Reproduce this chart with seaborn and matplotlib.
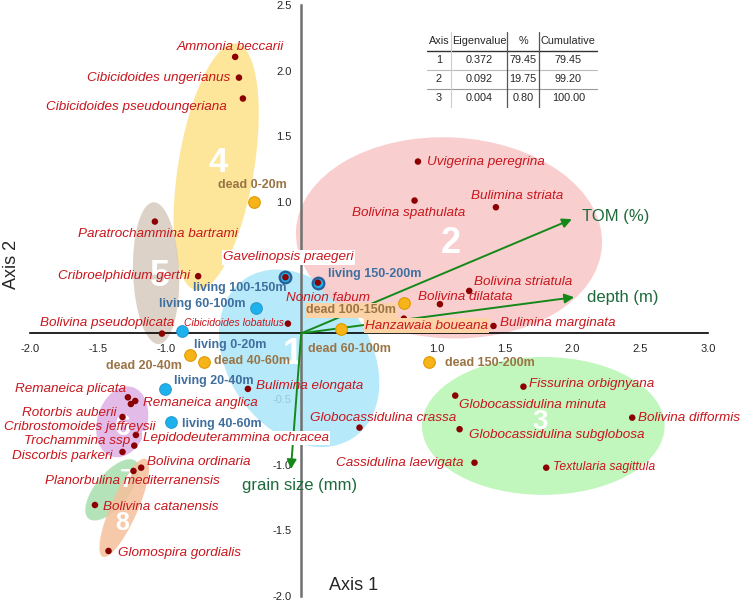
import numpy as np
import pandas as pd
import seaborn as sns
import matplotlib.pyplot as plt
from matplotlib.patches import Ellipse

# ---- data (CCA scores) ----
species = ['Ammonia beccarii', 'Cibicidoides ungerianus', 'Cibicidoides pseudoungeriana',
           'Uvigerina peregrina', 'Bulimina striata', 'Bolivina spathulata',
           'Paratrochammina bartrami', 'Cribroelphidium gerthi', 'Gavelinopsis praegeri',
           'Nonion fabum', 'Cibicidoides lobatulus', 'Bolivina pseudoplicata',
           'Bolivina striatula', 'Bolivina dilatata', 'Hanzawaia boueana',
           'Bulimina marginata', 'Bulimina elongata', 'Remaneica plicata',
           'Remaneica anglica', 'Rotorbis auberii', 'Cribrostomoides jeffreysii',
           'Lepidodeuterammina ochracea', 'Trochammina ssp', 'Discorbis parkeri',
           'Bolivina ordinaria', 'Planorbulina mediterranensis', 'Bolivina catanensis',
           'Glomospira gordialis', 'Fissurina orbignyana', 'Globocassidulina minuta',
           'Bolivina difformis', 'Globocassidulina subglobosa', 'Cassidulina laevigata',
           'Textularia sagittula', 'Globocassidulina crassa']
species_x = [-0.487, -0.459, -0.430, 0.861, 1.436, 0.836, -1.079, -0.760, -0.116,
             0.123, -0.098, -1.027, 1.239, 1.023, 0.757, 1.418, -0.393, -1.278,
             -1.224, -1.256, -1.318, -1.219, -1.231, -1.318, -1.180, -1.237, -1.521,
             -1.421, 1.639, 1.136, 2.441, 1.168, 1.278, 1.807, 0.430]
species_y = [2.105, 1.947, 1.788, 1.308, 0.960, 1.011, 0.851, 0.435, 0.427,
             0.386, 0.074, -0.002, 0.323, 0.222, 0.112, 0.056, -0.423, -0.487,
             -0.515, -0.538, -0.637, -0.774, -0.855, -0.903, -1.023, -1.048, -1.307,
             -1.657, -0.406, -0.474, -0.642, -0.730, -0.985, -1.023, -0.718]

depths = ['0-20m', '20-40m', '40-60m', '60-100m', '100-150m', '150-200m']
living_x = [-0.880, -1.003, -0.961, -0.337, -0.116, 0.123]
living_y = [0.018, -0.423, -0.677, 0.193, 0.427, 0.386]
dead_x = [-0.347, -0.819, -0.715, 0.297, 0.757, 0.946]
dead_y = [1.003, -0.165, -0.216, 0.034, 0.229, -0.218]

env_vars = ['TOM (%)', 'depth (m)', 'grain size (mm)']
env_x = [1.996, 2.013, -0.076]
env_y = [0.869, 0.275, -1.035]

# cluster ellipses: id, centre, width, height, angle
cluster_id = ['1', '2', '3', '4', '5', '6', '7', '8']
cluster_x = [-0.015, 1.090, 1.785, -0.627, -1.070, -1.320, -1.394, -1.305]
cluster_y = [-0.190, 0.727, -0.705, 1.268, 0.458, -0.674, -1.192, -1.329]
cluster_w = [1.45, 2.26, 1.79, 1.90, 0.34, 0.37, 0.56, 0.81]
cluster_h = [1.06, 1.53, 1.05, 0.56, 1.08, 0.55, 0.25, 0.20]
cluster_angle = [122, -3, 0, 81, 2, -15, 52, 67]

tab_axis = ['1', '2', '3']
tab_eigen = ['0.372', '0.092', '0.004']
tab_pct = ['79.45', '19.75', '0.80']
tab_cum = ['79.45', '99.20', '100.00']

# ---- style ----
sns.set_style('white')
plt.rcParams['font.family'] = ['Liberation Sans', 'DejaVu Sans']

red_txt = '#c8161d'
dot_col = '#8b0000'
living_txt = '#3f6f9f'
dead_txt = '#9a7445'
green_arrow = '#14891a'
green_txt = '#1d6a3a'
cluster_cols = ['#aae6f8', '#f9c6c6', '#b6f5b2', '#fde287', '#d8cbbd',
                '#ddb0e6', '#a7dfae', '#f6c09c']
cluster_fs = [26, 26, 20, 25, 26, 21, 19, 18]
cluster_num_off = [(-6, 4), (2, -6), (-3, 4), (2, 4), (4, -3), (1, -5), (15, 10), (-2, -15)]

# label layout: offset in pixels from the point, alignment
sp_lab = {
    'Ammonia beccarii': (-5, 10, 'center'), 'Cibicidoides ungerianus': (-9, 0, 'right'),
    'Cibicidoides pseudoungeriana': (-16, -8, 'right'), 'Uvigerina peregrina': (9, 0, 'left'),
    'Bulimina striata': (-25, 11, 'left'), 'Bolivina spathulata': (-6, -12, 'center'),
    'Paratrochammina bartrami': (3, -12, 'center'), 'Cribroelphidium gerthi': (-8, 0, 'right'),
    'Gavelinopsis praegeri': (3, 20, 'center'), 'Nonion fabum': (10, -15, 'center'),
    'Cibicidoides lobatulus': (-4, 1, 'right'), 'Bolivina pseudoplicata': (-55, 11, 'center'),
    'Bolivina striatula': (5, 9, 'left'), 'Bolivina dilatata': (-22, 7, 'left'),
    'Hanzawaia boueana': (-39, -7, 'left'), 'Bulimina marginata': (7, 3, 'left'),
    'Bulimina elongata': (8, 3, 'left'), 'Remaneica plicata': (-2, 8, 'right'),
    'Remaneica anglica': (8, -2, 'left'), 'Rotorbis auberii': (-14, -9, 'right'),
    'Cribrostomoides jeffreysii': (33, -10, 'right'), 'Lepidodeuterammina ochracea': (7, -3, 'left'),
    'Trochammina ssp': (-4, 5, 'right'), 'Discorbis parkeri': (-10, -4, 'right'),
    'Bolivina ordinaria': (6, 6, 'left'), 'Planorbulina mediterranensis': (-1, -10, 'center'),
    'Bolivina catanensis': (8, -2, 'left'), 'Glomospira gordialis': (9, -2, 'left'),
    'Fissurina orbignyana': (6, 3, 'left'), 'Globocassidulina minuta': (4, -9, 'left'),
    'Bolivina difformis': (6, 0, 'left'), 'Globocassidulina subglobosa': (9, -6, 'left'),
    'Cassidulina laevigata': (-11, 0, 'right'), 'Textularia sagittula': (7, 1, 'left'),
    'Globocassidulina crassa': (24, 10, 'center'),
}
small_lab = {'Cibicidoides lobatulus': 7.5, 'Textularia sagittula': 8.8}
boxed = {'Gavelinopsis praegeri': 'white', 'Lepidodeuterammina ochracea': 'white',
         'Hanzawaia boueana': '#fbd3a6', 'dead 100-150m': '#fbd3a6'}
living_lab = [(12, -14, 'left'), (9, 8, 'left'), (11, -2, 'left'),
              (-10, 4, 'right'), (1, -11, 'right'), (10, 9, 'left')]
dead_lab = [(-2, 17, 'center'), (-8, -11, 'right'), (10, 1, 'left'),
            (8, -20, 'center'), (-8, -7, 'right'), (16, -1, 'left')]
env_lab = [(10, 3, 'left'), (13, 0, 'left'), (9, -16, 'center')]

fig = plt.figure(figsize=(7.4, 6), dpi=100)
ax = fig.add_axes([30 / 740, 4 / 600, 678 / 740, 591 / 600])
ax.set_xlim(-2.0, 3.0)
ax.set_ylim(-2.0, 2.5)

# cluster ellipses and numbers
for i, cid in enumerate(cluster_id):
    ax.add_patch(Ellipse((cluster_x[i], cluster_y[i]), cluster_w[i], cluster_h[i],
                         angle=cluster_angle[i], facecolor=cluster_cols[i],
                         edgecolor='none', alpha=0.85, zorder=1))
for i, cid in enumerate(cluster_id):
    ax.annotate(cid, (cluster_x[i], cluster_y[i]), xytext=cluster_num_off[i],
                textcoords='offset pixels', ha='center', va='center', color='white',
                fontsize=cluster_fs[i], fontweight='bold', zorder=2)

# axes through the origin
for s in ['top', 'right']:
    ax.spines[s].set_visible(False)
ax.spines['left'].set_position(('data', 0))
ax.spines['bottom'].set_position(('data', 0))
ax.spines['left'].set_color('#707070')
ax.spines['left'].set_linewidth(1.8)
ax.spines['bottom'].set_color('black')
ax.spines['bottom'].set_linewidth(1.2)
xt = np.arange(-2.0, 3.01, 0.5)
yt = np.arange(-2.0, 2.51, 0.5)
ax.set_xticks(xt)
ax.set_xticklabels(['' if abs(v) < 0.6 else f'{v:.1f}' for v in xt])
ax.set_yticks(yt)
ax.set_yticklabels(['' if -0.1 < v < 0.6 else f'{v:.1f}' for v in yt])
ax.tick_params(axis='x', direction='out', length=5, width=1.1, labelsize=8, pad=3)
ax.tick_params(axis='y', direction='out', length=5, width=1.1, color='#333333', labelsize=8, pad=2)
ax.set_xlabel('')
ax.set_ylabel('')

# environmental arrows
for i, v in enumerate(env_vars):
    ax.annotate('', xy=(env_x[i], env_y[i]), xytext=(0, 0),
                arrowprops=dict(arrowstyle='-|>', color=green_arrow, lw=1.4,
                                mutation_scale=14, shrinkA=0, shrinkB=0), zorder=3)
    dx, dy, ha = env_lab[i]
    ax.annotate(v, (env_x[i], env_y[i]), xytext=(dx, dy), textcoords='offset pixels',
                ha=ha, va='center', color=green_txt, fontsize=12, zorder=6)

# points
samples = pd.DataFrame({'depth': depths, 'lx': living_x, 'ly': living_y,
                        'dx': dead_x, 'dy': dead_y})
sns.scatterplot(data=samples, x='lx', y='ly', color='#1bb2ee', edgecolor='#2a9bd0',
                linewidth=0.8, s=70, ax=ax, zorder=4)
deep = samples[samples['depth'].isin(['100-150m', '150-200m'])]
sns.scatterplot(data=deep, x='lx', y='ly', color='#1bb2ee', edgecolor='#2c5d96',
                linewidth=1.6, s=70, ax=ax, zorder=4)
sns.scatterplot(data=samples, x='dx', y='dy', color='#f6b418', edgecolor='#e09a00',
                linewidth=0.8, s=70, ax=ax, zorder=4)
sp = pd.DataFrame({'name': species, 'x': species_x, 'y': species_y})
sns.scatterplot(data=sp, x='x', y='y', color=dot_col, edgecolor='none', s=22, ax=ax, zorder=5)
ax.set_xlabel('')
ax.set_ylabel('')

def bbox_for(name):
    if name in boxed:
        return dict(boxstyle='square,pad=0.1', facecolor=boxed[name], edgecolor='none')
    return None

for i, name in enumerate(species):
    dx, dy, ha = sp_lab[name]
    ax.annotate(name, (species_x[i], species_y[i]), xytext=(dx, dy),
                textcoords='offset pixels', ha=ha, va='center', color=red_txt,
                style='italic', fontsize=small_lab.get(name, 9.7), zorder=6,
                bbox=bbox_for(name))

for i, d in enumerate(depths):
    dx, dy, ha = living_lab[i]
    ax.annotate('living ' + d, (living_x[i], living_y[i]), xytext=(dx, dy),
                textcoords='offset pixels', ha=ha, va='center', color=living_txt,
                fontweight='bold', fontsize=9, zorder=6)
    dx, dy, ha = dead_lab[i]
    ax.annotate('dead ' + d, (dead_x[i], dead_y[i]), xytext=(dx, dy),
                textcoords='offset pixels', ha=ha, va='center', color=dead_txt,
                fontweight='bold', fontsize=9, zorder=6, bbox=bbox_for('dead ' + d))

fig.text(354 / 740, 1 - 586 / 600, 'Axis 1', ha='center', va='center', fontsize=13)
fig.text(12 / 740, 1 - 264 / 600, 'Axis 2', ha='center', va='center', fontsize=13, rotation=90)

# eigenvalue table
tax = fig.add_axes([427 / 740, 1 - 108 / 600, 171 / 740, 76 / 600])
tax.set_xlim(0, 171)
tax.set_ylim(4, 0)
tax.axis('off')
col_edges = [0, 23.7, 80.3, 111.7, 171]
header = ['Axis', 'Eigenvalue', '%', 'Cumulative']
cols = [tab_axis, tab_eigen, tab_pct, tab_cum]
for c in range(4):
    xc = (col_edges[c] + col_edges[c + 1]) / 2
    tax.text(xc, 0.5, header[c], ha='center', va='center', fontsize=7.8)
    for r in range(3):
        tax.text(xc, r + 1.5, cols[c][r], ha='center', va='center', fontsize=7.8)
tax.plot([0, 171], [1, 1], color='#333333', lw=1)
tax.plot([0, 171], [2, 2], color='#bbbbbb', lw=0.8)
tax.plot([0, 171], [3, 3], color='#999999', lw=0.8)
tax.plot([col_edges[1]] * 2, [0, 4], color='#cccccc', lw=0.8)
tax.plot([col_edges[2]] * 2, [0, 4], color='#555555', lw=0.9)
tax.plot([col_edges[3]] * 2, [0, 4], color='#555555', lw=0.9)

fig.savefig('out.png', dpi=100)
